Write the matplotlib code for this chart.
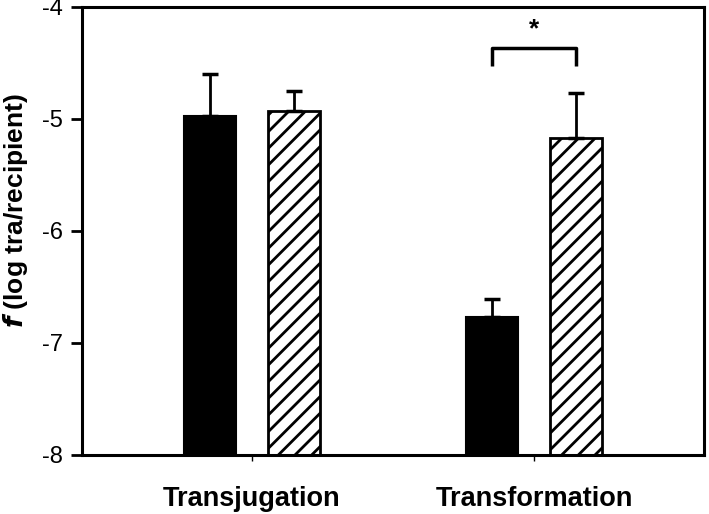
import matplotlib
matplotlib.use("Agg")
import matplotlib.pyplot as plt
import numpy as np

plt.rcParams['font.family'] = ['Liberation Sans', 'DejaVu Sans']
plt.rcParams['hatch.linewidth'] = 2.0

categories = ["Transjugation", "Transformation"]
series_solid = [-4.97, -6.77]
series_solid_err = [0.37, 0.16]
series_hatched = [-4.93, -5.17]
series_hatched_err = [0.18, 0.40]
yticks = [-8, -7, -6, -5, -4]
bracket_y = -4.37
bracket_drop = -4.53
star_y = -4.2

base = -8
x = np.arange(len(categories))
off = 0.15
w = 0.185

fig = plt.figure(figsize=(7.09, 5.14), dpi=100)
ax = fig.add_axes([0.1157, 0.1148, 0.993 - 0.1157, 0.9864 - 0.1148])

h1 = np.array(series_solid) - base
h2 = np.array(series_hatched) - base
ax.bar(x - off, h1, w, bottom=base, color='black', edgecolor='black', linewidth=1.5, zorder=2)
ax.bar(x + off, h2, w, bottom=base, color='white', edgecolor='black', linewidth=2, hatch='//', zorder=2)

ekw = dict(fmt='none', ecolor='black', elinewidth=2, capsize=6, capthick=2.5, zorder=3)
ax.errorbar(x - off, series_solid, yerr=[np.zeros(2), series_solid_err], **ekw)
ax.errorbar(x + off, series_hatched, yerr=[np.zeros(2), series_hatched_err], **ekw)

# significance bracket on Transformation
i = 1
ax.plot([x[i] - off, x[i] - off, x[i] + off, x[i] + off],
        [bracket_drop, bracket_y, bracket_y, bracket_drop],
        color='black', linewidth=2.5, solid_capstyle='butt', zorder=3)
ax.text(x[i], star_y, '*', ha='center', va='center', fontsize=19, fontweight='bold')

ax.set_ylim(-8, -4)
ax.set_xlim(-0.603, 1.603)
ax.set_yticks(yticks)
ax.set_yticklabels([str(t) for t in yticks], fontsize=17)
ax.set_xticks(x)
ax.set_xticklabels(categories, fontsize=19.5, fontweight='bold')
ax.tick_params(axis='y', direction='out', length=8, width=2, pad=6)
ax.tick_params(axis='x', direction='out', length=4, width=1, pad=18)
for s in ax.spines.values():
    s.set_linewidth(2.2)

ax.set_ylabel(r'$\mathbfit{f}$' + ' (log tra/recipient)', fontsize=19, fontweight='bold')
ax.yaxis.set_label_coords(-0.083, 0.545)

fig.savefig('out.png', dpi=100)
